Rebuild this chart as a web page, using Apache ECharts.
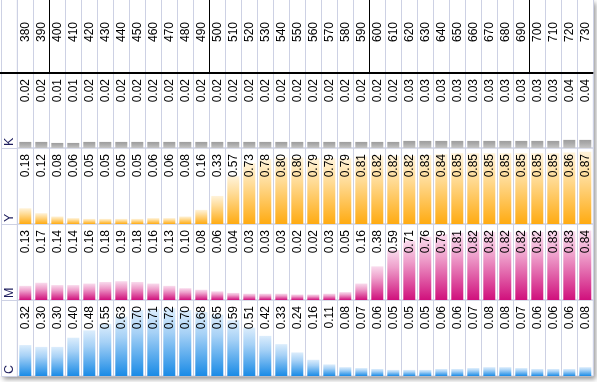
<!DOCTYPE html>
<html>
<head>
<meta charset="utf-8">
<script src="https://cdn.jsdelivr.net/npm/echarts@6/dist/echarts.min.js"></script>
<style>
html,body{margin:0;padding:0;background:#fff;}
#chart{width:597px;height:382px;}
</style>
</head>
<body>
<div id="chart"></div>
<script>
// ---- data ----
const wavelengths = ['380','390','400','410','420','430','440','450','460','470','480','490',
  '500','510','520','530','540','550','560','570','580','590',
  '600','610','620','630','640','650','660','670','680','690',
  '700','710','720','730'];
const kValues = [0.02,0.02,0.01,0.01,0.02,0.02,0.02,0.02,0.02,0.02,0.02,0.02,
  0.02,0.02,0.02,0.02,0.02,0.02,0.02,0.02,0.02,0.02,
  0.02,0.02,0.03,0.03,0.03,0.03,0.03,0.03,0.03,0.03,
  0.03,0.03,0.04,0.04];
const yValues = [0.18,0.12,0.08,0.06,0.05,0.05,0.05,0.05,0.06,0.06,0.08,0.16,
  0.33,0.57,0.73,0.78,0.80,0.80,0.79,0.79,0.79,0.81,
  0.82,0.82,0.82,0.83,0.84,0.85,0.85,0.85,0.85,0.85,
  0.85,0.85,0.86,0.87];
const mValues = [0.13,0.17,0.14,0.14,0.16,0.18,0.19,0.18,0.16,0.13,0.10,0.08,
  0.06,0.04,0.03,0.03,0.03,0.02,0.02,0.03,0.05,0.16,
  0.38,0.59,0.71,0.76,0.79,0.81,0.82,0.82,0.82,0.82,
  0.82,0.83,0.83,0.84];
const cValues = [0.32,0.30,0.30,0.40,0.48,0.55,0.63,0.70,0.71,0.72,0.70,0.68,
  0.65,0.59,0.51,0.42,0.33,0.24,0.16,0.11,0.08,0.07,
  0.06,0.05,0.05,0.05,0.06,0.06,0.07,0.08,0.08,0.07,
  0.06,0.06,0.06,0.08];
const rowNames = ['K','Y','M','C'];

// ---- layout / style ----
const LEFT = 17.3, RIGHTX = 593.3, HEADER_BOTTOM = 73;
const rowTops = [73, 148, 224, 300];
const rowBottoms = [148, 224, 300, 376];
const LIGHT = '#cdd1e4';
const FONT = "'Liberation Sans', Arial, sans-serif";
// axis ranges per row (min below zero gives the bars a small base length)
const axisRanges = [[-0.04, 0.70], [-0.0122, 0.915], [-0.0513, 0.923], [-0.0163, 0.81]];
function grad(top, mid, bottom) {
  return new echarts.graphic.LinearGradient(0, 0, 0, 1, [
    {offset: 0, color: top}, {offset: 0.35, color: mid}, {offset: 1, color: bottom}
  ]);
}
const rowColors = [
  grad('#9e9e9e', '#a8a8a8', '#c4c4c4'),
  grad('#fff3da', '#ffdc98', '#ffab12'),
  grad('#f9dbed', '#ee9fcb', '#d0107c'),
  grad('#dcedfc', '#a6d1f6', '#1a8be6')
];
const rowData = [kValues, yValues, mValues, cValues];

const grids = [], xAxes = [], yAxes = [], series = [];
for (let i = 0; i < 4; i++) {
  grids.push({left: LEFT, right: 597 - RIGHTX, top: rowTops[i], height: rowBottoms[i] - rowTops[i],
    show: true, borderColor: LIGHT, borderWidth: 1, backgroundColor: 'transparent'});
  const vals = rowData[i];
  xAxes.push({gridIndex: i, type: 'category', data: wavelengths, position: 'top', boundaryGap: true, z: 10,
    axisLine: {show: false}, axisTick: {show: false},
    axisLabel: {inside: true, rotate: 90, margin: 6, interval: 0, fontSize: 12, fontFamily: FONT, color: '#000',
      formatter: (v, idx) => vals[idx].toFixed(2)},
    splitLine: {show: true, lineStyle: {color: LIGHT, width: 1}}});
  yAxes.push({gridIndex: i, type: 'value', min: axisRanges[i][0], max: axisRanges[i][1],
    startValue: axisRanges[i][0], show: false, splitLine: {show: false}});
  series.push({type: 'bar', xAxisIndex: i, yAxisIndex: i, data: vals, barWidth: 12, silent: true, z: 2,
    itemStyle: {color: rowColors[i]}});
}
// header grid
grids.push({left: LEFT, right: 597 - RIGHTX, top: 0, height: HEADER_BOTTOM - 1, show: false});
const headerLineColors = [LIGHT, LIGHT, '#000', LIGHT, LIGHT, LIGHT, LIGHT, LIGHT, LIGHT, LIGHT];
xAxes.push({gridIndex: 4, type: 'category', data: wavelengths, position: 'bottom', boundaryGap: true, z: 10,
  axisLine: {show: false}, axisTick: {show: false},
  axisLabel: {inside: true, rotate: 90, margin: 30, interval: 0, fontSize: 12, fontFamily: FONT, color: '#000'},
  splitLine: {show: true, lineStyle: {color: headerLineColors, width: 1}}});
yAxes.push({gridIndex: 4, type: 'value', show: false, splitLine: {show: false}});

const graphics = [
  {type: 'rect', z: -10, shape: {x: 0, y: 0, width: RIGHTX, height: rowBottoms[3]},
    style: {fill: '#fff', shadowBlur: 5, shadowOffsetX: 3, shadowOffsetY: 3, shadowColor: 'rgba(0,0,0,0.45)'}},
  {type: 'line', z: 50, shape: {x1: 1.5, y1: 0, x2: 1.5, y2: rowBottoms[3]}, style: {stroke: LIGHT, lineWidth: 1}},
  {type: 'line', z: 50, shape: {x1: LEFT, y1: 0, x2: LEFT, y2: HEADER_BOTTOM}, style: {stroke: LIGHT, lineWidth: 1}},
  {type: 'line', z: 100, shape: {x1: 0, y1: HEADER_BOTTOM, x2: RIGHTX, y2: HEADER_BOTTOM}, style: {stroke: '#000', lineWidth: 2}}
];
for (let i = 0; i < 4; i++) {
  graphics.push({type: 'line', z: 50, shape: {x1: 1.5, y1: rowBottoms[i] + 0.5, x2: LEFT, y2: rowBottoms[i] + 0.5},
    style: {stroke: LIGHT, lineWidth: 1}});
  graphics.push({type: 'text', z: 60, x: 9.5, y: rowBottoms[i] - 2, rotation: Math.PI / 2,
    style: {text: rowNames[i], fontSize: 12.5, fontFamily: FONT, fill: '#1c1c5c', align: 'left', verticalAlign: 'middle'}});
}

const chart = echarts.init(document.getElementById('chart'), null, {renderer: 'canvas'});
chart.setOption({
  animation: false,
  backgroundColor: '#fff',
  grid: grids,
  xAxis: xAxes,
  yAxis: yAxes,
  series: series,
  graphic: graphics
});
</script>
</body>
</html>
